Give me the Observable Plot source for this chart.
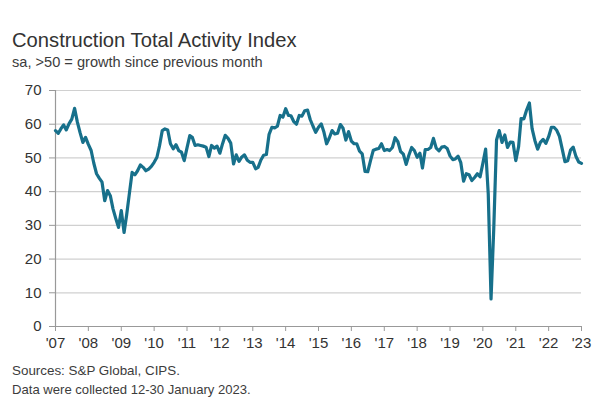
<!DOCTYPE html>
<html><head><meta charset="utf-8">
<script src="https://cdn.jsdelivr.net/npm/d3@7"></script>
<script src="https://cdn.jsdelivr.net/npm/@observablehq/plot@0.6"></script>
<style>
body{margin:0;background:#fff;font-family:"Liberation Sans",Arial,sans-serif;color:#333;}
#wrap{position:relative;width:600px;height:400px;overflow:hidden}
.t{position:absolute;left:12px;line-height:1;white-space:nowrap}
#title{top:30px;font-size:20.2px;color:#333}
#sub{top:55px;font-size:14.6px;color:#3c3c3c}
#chart{position:absolute;left:0;top:78px}
#src{top:364px;font-size:13.4px;color:#3c3c3c}
#note{top:383px;font-size:13.1px;color:#3c3c3c}
</style></head>
<body><div id="wrap">
<div class="t" id="title">Construction Total Activity Index</div>
<div class="t" id="sub">sa, &gt;50 = growth since previous month</div>
<div id="chart"></div>
<div class="t" id="src">Sources: S&amp;P Global, CIPS.</div>
<div class="t" id="note">Data were collected 12-30 January 2023.</div>
</div>
<script>
// Monthly index values, January of each year through December
const y2007 = [58.1, 57.3, 58.6, 59.8, 58.3, 60.2, 61.5, 64.7, 60.6, 57.5, 54.6, 56.1];
const y2008 = [54.0, 52.2, 48.5, 45.3, 44.0, 42.8, 37.3, 40.3, 38.8, 34.9, 32.0, 29.4];
const y2009 = [34.4, 27.9, 33.0, 39.5, 45.7, 45.0, 46.2, 47.9, 47.2, 46.2, 46.7, 47.5];
const y2010 = [48.7, 50.2, 53.5, 58.1, 58.6, 58.3, 54.2, 52.7, 53.9, 52.2, 51.7, 49.2];
const y2011 = [53.0, 56.6, 56.1, 53.7, 53.9, 53.7, 53.5, 53.2, 50.4, 53.7, 52.9, 53.5];
const y2012 = [51.4, 54.3, 56.7, 55.8, 54.4, 48.2, 50.9, 49.0, 50.3, 50.9, 49.3, 48.7];
const y2013 = [48.7, 46.8, 47.2, 49.4, 50.8, 51.0, 57.0, 59.1, 58.9, 59.4, 62.6, 62.1];
const y2014 = [64.6, 62.6, 62.5, 60.8, 60.0, 62.6, 62.4, 64.0, 64.2, 61.4, 59.4, 57.6];
const y2015 = [59.1, 60.1, 57.8, 54.2, 55.9, 58.1, 57.1, 57.3, 59.9, 58.8, 55.3, 57.8];
const y2016 = [55.0, 54.2, 54.2, 52.0, 51.2, 46.0, 45.9, 49.2, 52.3, 52.6, 52.8, 54.2];
const y2017 = [52.2, 52.5, 52.2, 53.1, 56.0, 54.8, 51.9, 51.1, 48.1, 50.8, 53.1, 52.2];
const y2018 = [50.2, 51.4, 47.0, 52.5, 52.5, 53.1, 55.8, 52.9, 52.1, 53.2, 53.4, 52.8];
const y2019 = [50.6, 49.5, 49.7, 50.5, 48.6, 43.1, 45.3, 45.0, 43.3, 44.2, 45.3, 44.4];
const y2020 = [48.4, 52.6, 39.3, 8.2, 28.9, 55.3, 58.1, 54.6, 56.8, 53.1, 54.7, 54.6];
const y2021 = [49.2, 53.3, 61.7, 61.6, 64.2, 66.3, 58.7, 55.2, 52.6, 54.6, 55.5, 54.3];
const y2022 = [56.3, 59.1, 59.1, 58.2, 56.4, 52.6, 48.9, 49.2, 52.3, 53.2, 50.4, 48.8];
const y2023 = [48.4];

const startYear = 2007;
const tickYears = [2007,2008,2009,2010,2011,2012,2013,2014,2015,2016,2017,2018,2019,2020,2021,2022,2023];
const tickLabels = ["'07","'08","'09","'10","'11","'12","'13","'14","'15","'16","'17","'18","'19","'20","'21","'22","'23"];
const yTicks = [0,10,20,30,40,50,60,70];

const values = [].concat(y2007,y2008,y2009,y2010,y2011,y2012,y2013,y2014,y2015,y2016,y2017,y2018,y2019,y2020,y2021,y2022,y2023);
const data = values.map((v,i)=>({date:new Date(Date.UTC(startYear, i, 1)), value:v}));
const tickDates = tickYears.map(y=>new Date(Date.UTC(y,0,1)));
const labelOf = new Map(tickYears.map((y,i)=>[y, tickLabels[i]]));

const x0 = tickDates[0], x1 = tickDates[tickDates.length-1];
const chart = Plot.plot({
  width: 600, height: 278,
  marginLeft: 55, marginRight: 19, marginTop: 12, marginBottom: 30,
  style: {fontFamily: '"Liberation Sans", Arial, sans-serif', fontSize: "15px", color: "#333", background: "transparent"},
  x: {type: "utc", domain: [x0, x1]},
  y: {domain: [0, 70]},
  marks: [
    Plot.gridY(yTicks.filter(d=>d>0), {stroke: "#d0d0d0", strokeOpacity: 1, strokeWidth: 1.2}),
    Plot.ruleY([0], {stroke: "#999", strokeWidth: 1.2}),
    Plot.ruleX([x0], {stroke: "#999", strokeWidth: 1.2}),
    Plot.axisY(yTicks, {tickSize: 6, tickPadding: 8, stroke: "#999", fill: "#333", label: null, fontSize: 15}),
    Plot.axisX(tickDates, {tickSize: 5, tickPadding: 6, stroke: "#999", fill: "#333", label: null, fontSize: 15,
      tickFormat: d => labelOf.get(d.getUTCFullYear())}),
    Plot.lineY(data, {x: "date", y: "value", stroke: "#17708b", strokeWidth: 3.2, strokeLinejoin: "round"})
  ]
});
document.getElementById("chart").appendChild(chart);
</script>
</body></html>
